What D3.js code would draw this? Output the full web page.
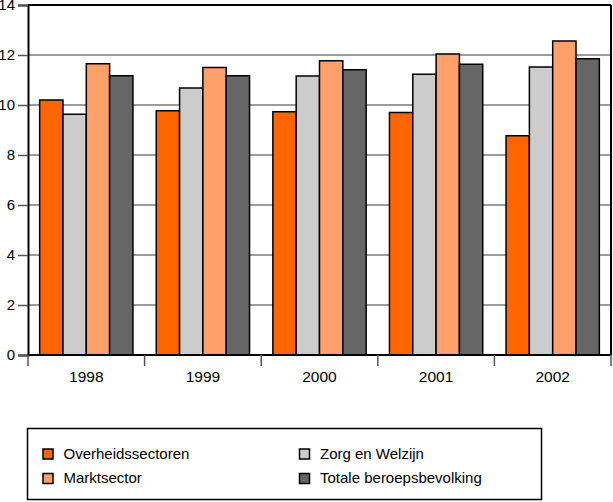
<!DOCTYPE html>
<html>
<head>
<meta charset="utf-8">
<script src="https://cdn.jsdelivr.net/npm/d3@7"></script>
<style>
  html, body { margin: 0; padding: 0; background: #fff; }
  svg { display: block; font-family: "Liberation Sans", Arial, sans-serif; }
</style>
</head>
<body>
<svg id="chart" width="613" height="502"></svg>
<script>
const years = ["1998", "1999", "2000", "2001", "2002"];
const seriesNames = ["Overheidssectoren", "Zorg en Welzijn", "Marktsector", "Totale beroepsbevolking"];
const overheidssectoren = [10.2, 9.77, 9.73, 9.7, 8.77];
const zorgEnWelzijn = [9.63, 10.68, 11.16, 11.23, 11.52];
const marktsector = [11.65, 11.5, 11.77, 12.04, 12.56];
const totaleBeroepsbevolking = [11.17, 11.17, 11.41, 11.63, 11.85];
const yTicks = [0, 2, 4, 6, 8, 10, 12, 14];
const colors = ["#FF6600", "#CCCCCC", "#FFA06A", "#666666"];

const seriesValues = [overheidssectoren, zorgEnWelzijn, marktsector, totaleBeroepsbevolking];

const svg = d3.select("#chart");
const plotLeft = 28, plotRight = 611, plotTop = 5, plotBottom = 355;

const xOuter = d3.scaleBand().domain(years).range([plotLeft, plotRight]).padding(0);
const xInner = d3.scaleBand().domain(d3.range(seriesNames.length)).range([0, xOuter.bandwidth() * 0.8]).padding(0);
const y = d3.scaleLinear().domain([0, 14]).range([plotBottom, plotTop]);

// gridlines
svg.append("g").selectAll("line").data(yTicks.filter(t => t > 0 && t < 14)).join("line")
  .attr("x1", plotLeft).attr("x2", plotRight)
  .attr("y1", d => y(d)).attr("y2", d => y(d))
  .attr("stroke", "#7a7a7a").attr("stroke-width", 1.5);

// frame top & right
svg.append("line").attr("x1", plotLeft).attr("x2", plotRight).attr("y1", y(14)).attr("y2", y(14))
  .attr("stroke", "#000").attr("stroke-width", 2);
svg.append("line").attr("x1", plotRight).attr("x2", plotRight).attr("y1", y(14)).attr("y2", y(0))
  .attr("stroke", "#000").attr("stroke-width", 2);

// bars
const groups = svg.append("g").selectAll("g").data(years).join("g")
  .attr("transform", d => `translate(${xOuter(d) + xOuter.bandwidth() * 0.1},0)`);
groups.selectAll("rect").data((d, i) => seriesValues.map((s, k) => ({k, v: s[i]}))).join("rect")
  .attr("x", d => xInner(d.k))
  .attr("width", xInner.bandwidth())
  .attr("y", d => y(d.v))
  .attr("height", d => y(0) - y(d.v))
  .attr("fill", d => colors[d.k])
  .attr("stroke", "#000").attr("stroke-width", 1.5);

// y axis
const yAxis = d3.axisLeft(y).tickValues(yTicks).tickSize(10).tickPadding(3).tickFormat(d3.format("d"));
const gy = svg.append("g").attr("transform", `translate(${plotLeft},0)`).call(yAxis);
gy.select(".domain").attr("stroke", "#000").attr("stroke-width", 2);
gy.selectAll(".tick line").attr("stroke", "#555").attr("stroke-width", 1.5);
gy.selectAll(".tick text").attr("font-size", 15).attr("fill", "#000")
  .attr("font-family", "'Liberation Sans', Arial, sans-serif");

// x axis baseline
svg.append("line").attr("x1", plotLeft).attr("x2", plotRight).attr("y1", y(0)).attr("y2", y(0))
  .attr("stroke", "#000").attr("stroke-width", 2);

// x ticks at boundaries
const boundaries = years.map(d => xOuter(d)).concat([plotRight]);
svg.append("g").selectAll("line").data(boundaries).join("line")
  .attr("x1", d => d).attr("x2", d => d)
  .attr("y1", y(0)).attr("y2", y(0) + 11)
  .attr("stroke", "#555").attr("stroke-width", 1.5);

// x labels
svg.append("g").selectAll("text").data(years).join("text")
  .attr("x", d => xOuter(d) + xOuter.bandwidth() / 2)
  .attr("y", 382)
  .attr("text-anchor", "middle")
  .attr("font-size", 15.5)
  .attr("fill", "#000")
  .text(d => d);

// legend
const lg = svg.append("g");
lg.append("rect").attr("x", 27.5).attr("y", 428.5).attr("width", 514).attr("height", 71)
  .attr("fill", "none").attr("stroke", "#000").attr("stroke-width", 1.5);
const legendPos = [
  {x: 43, y: 449}, {x: 299.5, y: 449}, {x: 43, y: 473.5}, {x: 299.5, y: 473.5}
];
seriesNames.forEach((name, k) => {
  const p = legendPos[k];
  lg.append("rect").attr("x", p.x).attr("y", p.y).attr("width", 10).attr("height", 10)
    .attr("fill", colors[k]).attr("stroke", "#000").attr("stroke-width", 1.5);
  lg.append("text").attr("x", p.x + 20.5).attr("y", p.y + 9.5)
    .attr("font-size", 15).attr("fill", "#000").text(name);
});
</script>
</body>
</html>
